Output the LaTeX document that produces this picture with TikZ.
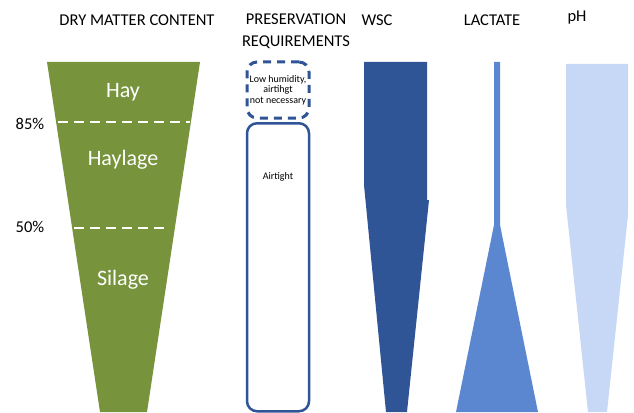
\documentclass[tikz,border=0pt]{standalone}
\usepackage{fontspec}
\setmainfont{Carlito}
\usetikzlibrary{positioning}
\definecolor{grass}{HTML}{77933C}
\definecolor{wscblue}{HTML}{2F5597}
\definecolor{lacblue}{HTML}{5B87D0}
\definecolor{phblue}{HTML}{C6D8F5}

\begin{document}
\begin{tikzpicture}[x=1pt, y=-1pt,
  head/.style = {font=\fontsize{16.5}{22}\selectfont, align=center, inner sep=0pt},
  zone/.style = {text=white, font=\fontsize{22}{24}\selectfont, inner sep=0pt},
  pct/.style = {font=\fontsize{16.5}{18}\selectfont, inner sep=0pt},
  note/.style = {font=\fontsize{10}{10.5}\selectfont, align=center, inner sep=0pt},
  cut/.style = {white, line width=2pt, dash pattern=on 10pt off 6pt},
  req/.style = {draw=wscblue, line width=2.5pt, rounded corners=10pt,
                minimum width=62pt, inner sep=0pt}]
  \useasboundingbox (0,0) rectangle (634,412);

  \node[head] (dmc) at (137,20) {DRY MATTER CONTENT};
  \node[head] (pres) at (296,31) {PRESERVATION\\REQUIREMENTS};
  \node[head] (wsc) at (377,20) {WSC};
  \node[head] (lac) at (492,20) {LACTATE};
  \node[head] (ph) at (577,18) {pH};

  \fill[grass] (47,62) -- (200,62) -- (147,412) -- (100,412) -- cycle;
  \draw[cut] (58,122) -- (190,122);
  \draw[cut] (74,228) -- (170,228);
  \node[pct] (p85) at (30,124) {85\%};
  \node[pct] (p50) at (30,227) {50\%};
  \node[zone] (hay) at (123,92) {Hay};
  \node[zone] (haylage) at (123,160) {Haylage};
  \node[zone] (silage) at (123,280) {Silage};

  \node[req, dash pattern=on 8pt off 6pt, line width=3pt, minimum height=56pt]
    (loose) at (278,90) {};
  \node[note] at (loose) {Low humidity,\\airtihgt\\not necessary};
  \node[req, minimum height=288pt, anchor=north] (tight) at (278,122) {};
  \node[note, below=50pt of tight.north] (airtight) {Airtight};

  \fill[wscblue] (364,62) -- (427,62) -- (427,200) -- (429,200) -- (407,412)
    -- (386,412) -- (364,185) -- cycle;
  \fill[lacblue] (494,62) -- (500,62) -- (500,225) -- (538,412) -- (456,412)
    -- (494,225) -- cycle;
  \fill[phblue] (566,64) -- (628,64) -- (628,215) -- (607,412) -- (588,412)
    -- (566,205) -- cycle;
\end{tikzpicture}
\end{document}
